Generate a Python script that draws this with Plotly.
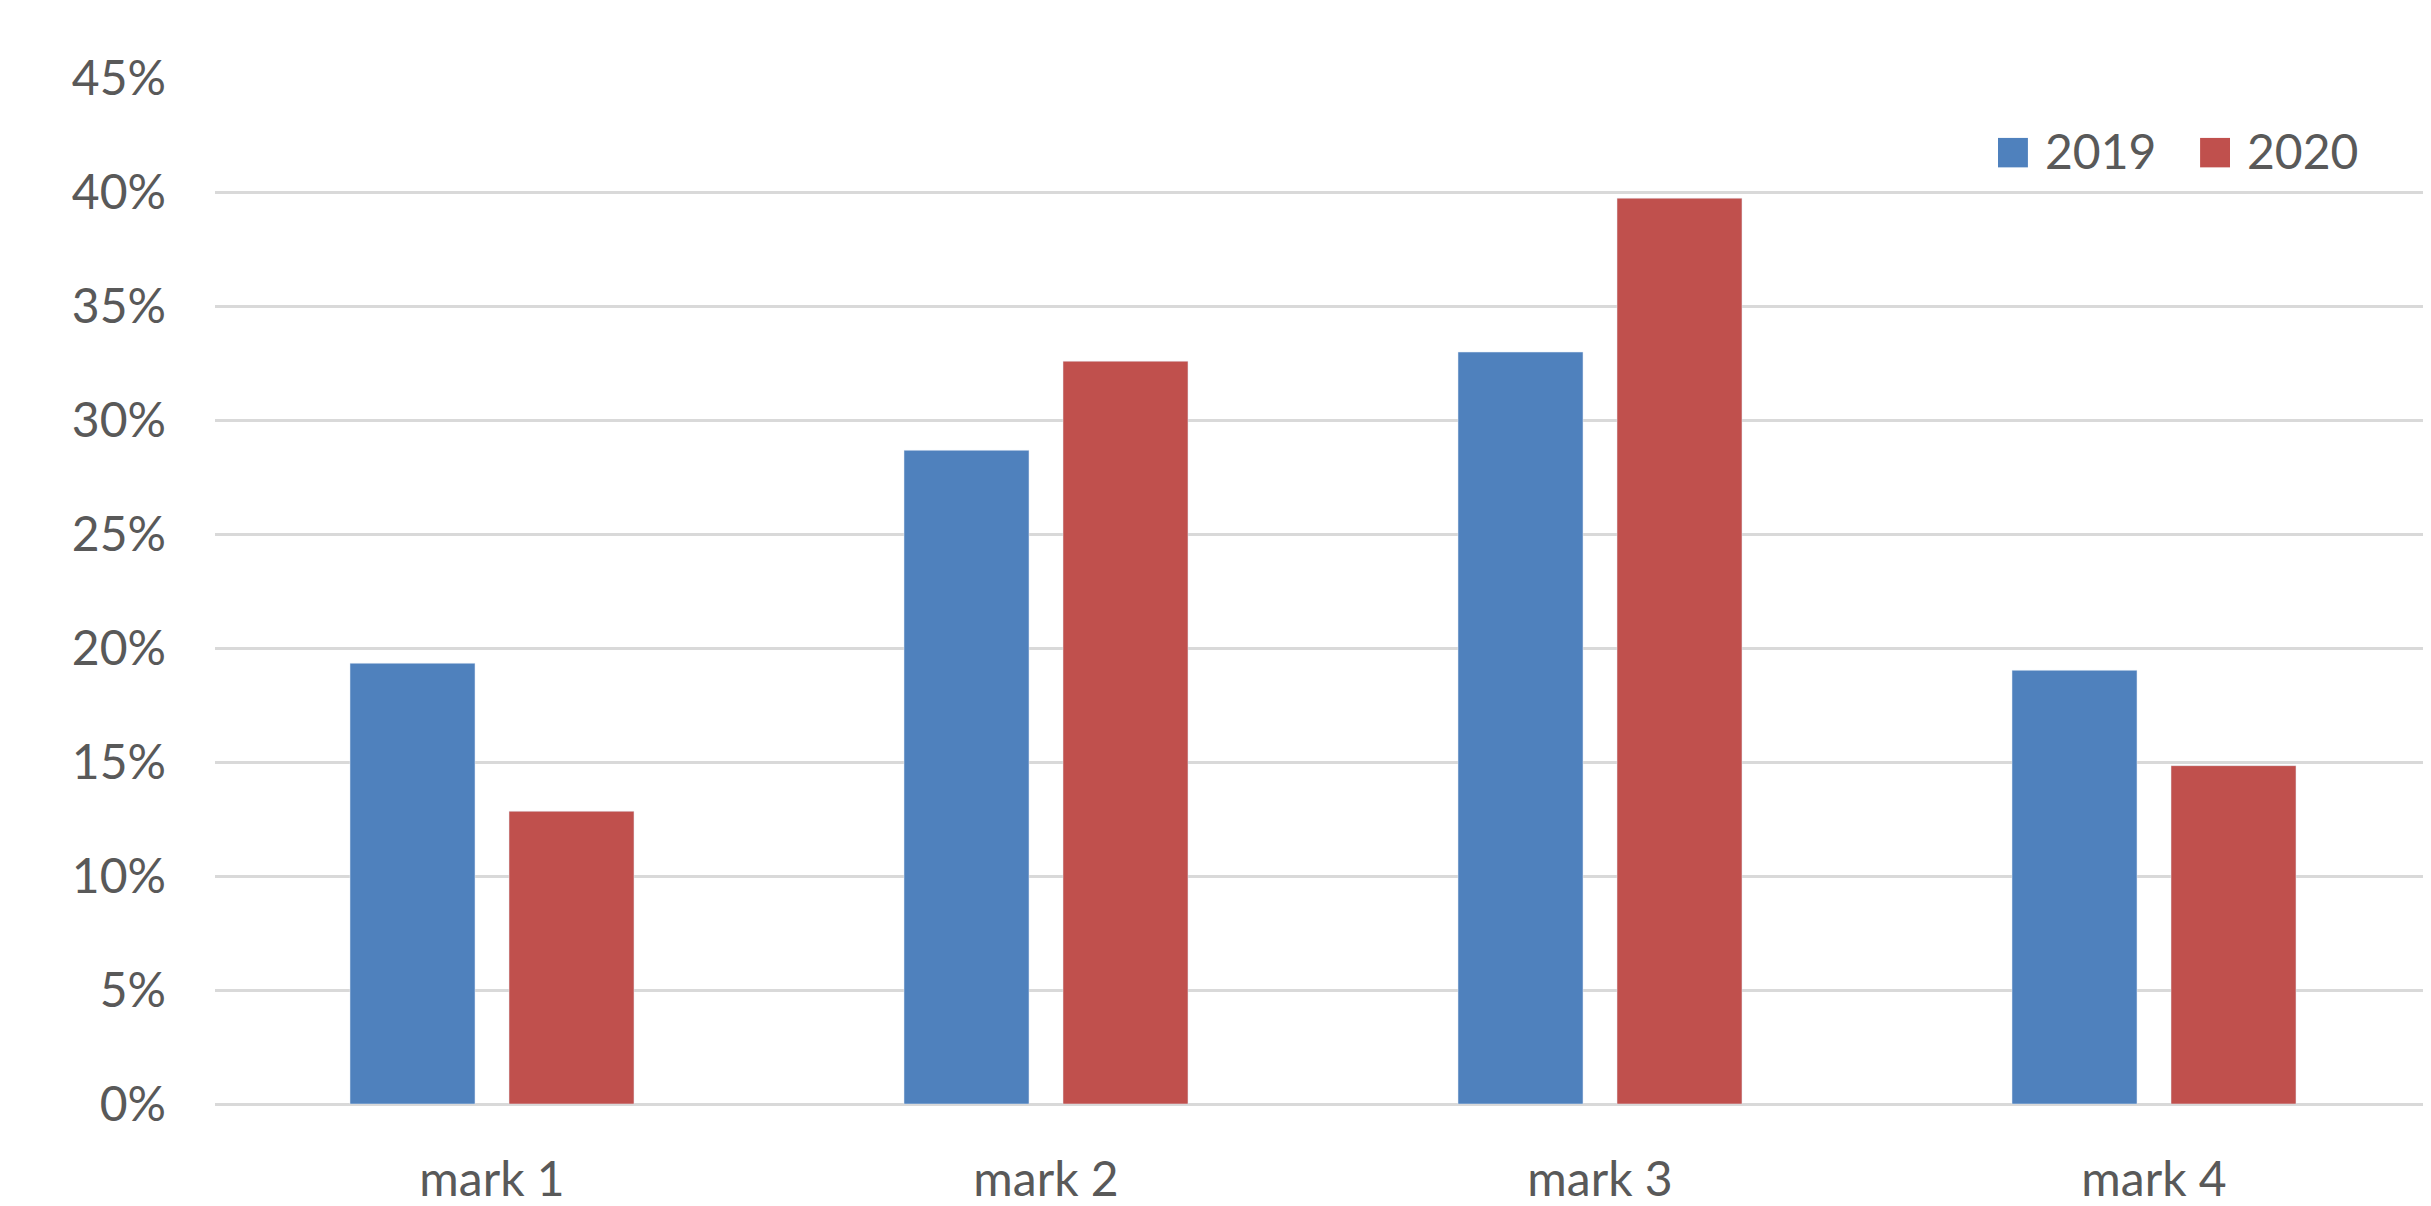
import plotly.graph_objects as go

categories = ["mark 1", "mark 2", "mark 3", "mark 4"]
series_names = ["2019", "2020"]
series_2019 = [0.1933, 0.2867, 0.3298, 0.1902]
series_2020 = [0.1284, 0.3258, 0.3973, 0.1484]
y_ticks = [0, 0.05, 0.10, 0.15, 0.20, 0.25, 0.30, 0.35, 0.40, 0.45]
y_tick_labels = ["0%", "5%", "10%", "15%", "20%", "25%", "30%", "35%", "40%", "45%"]

FONT = "Lato"
TXT = "#595959"
COLORS = ["#4F81BD", "#C0504D"]

fig = go.Figure()
fig.add_trace(go.Bar(name=series_names[0], x=categories, y=series_2019,
                     marker_color=COLORS[0], showlegend=False))
fig.add_trace(go.Bar(name=series_names[1], x=categories, y=series_2020,
                     marker_color=COLORS[1], showlegend=False))

# legend drawn as swatches + labels (Excel-style large square keys)
legend_items = [
    # (swatch x0, swatch x1, label x) in paper fraction
    (0.8046, 0.8181, 0.8250),
    (0.8958, 0.9093, 0.9160),
]
shapes = []
annotations = []
for (sx0, sx1, tx), name, col in zip(legend_items, series_names, COLORS):
    shapes.append(dict(type="rect", xref="paper", yref="paper",
                       x0=sx0, x1=sx1, y0=0.9129, y1=0.9416,
                       fillcolor=col, line=dict(width=0)))
    annotations.append(dict(text=name, xref="paper", yref="paper", x=tx, y=0.929,
                            xanchor="left", yanchor="middle", showarrow=False,
                            font=dict(family=FONT, size=48, color=TXT)))

fig.update_layout(
    width=2431, height=1206,
    paper_bgcolor="white", plot_bgcolor="white",
    margin=dict(l=207, r=8, t=70, b=91),
    barmode="group", bargap=0.426, bargroupgap=0.214,
    font=dict(family=FONT, color=TXT, size=48),
    showlegend=False,
    shapes=shapes,
    annotations=annotations,
    xaxis=dict(showgrid=False, showline=False, ticks="", ticklabelstandoff=43,
               tickfont=dict(size=48, color=TXT)),
    yaxis=dict(range=[0, 0.45], tickvals=y_ticks, ticktext=y_tick_labels,
               showgrid=True, gridcolor="#D9D9D9", gridwidth=2.5,
               zeroline=True, zerolinecolor="#D9D9D9", zerolinewidth=2.5,
               showline=False, ticks="", ticklabelstandoff=48,
               tickfont=dict(size=48, color=TXT)),
)

fig.write_html("out.html")
